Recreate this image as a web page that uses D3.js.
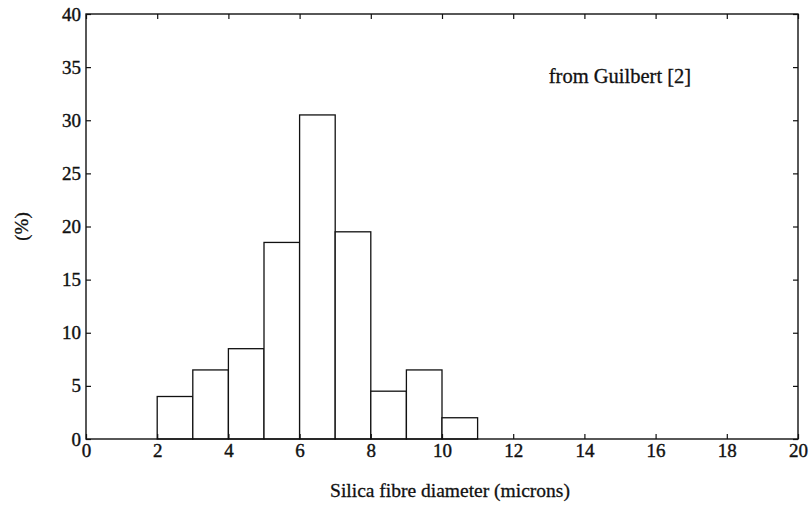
<!DOCTYPE html>
<html>
<head>
<meta charset="utf-8">
<script src="https://cdn.jsdelivr.net/npm/d3@7"></script>
<style>
  body { margin: 0; background: #fff; }
  text { font-family: "Liberation Serif", "Times New Roman", "DejaVu Serif", serif !important; }
</style>
</head>
<body>
<svg id="chart" width="812" height="508"></svg>
<script>
// histogram bins (microns) and percentages
const binStarts = [2, 3, 4, 5, 6, 7, 8, 9, 10];
const binWidth = 1;
const percents = [4, 6.5, 8.5, 18.5, 30.5, 19.5, 4.5, 6.5, 2];
const xTicks = [0, 2, 4, 6, 8, 10, 12, 14, 16, 18, 20];
const yTicks = [0, 5, 10, 15, 20, 25, 30, 35, 40];

const margin = {top: 14, right: 14, bottom: 69, left: 86};
const width = 812 - margin.left - margin.right;
const height = 508 - margin.top - margin.bottom;
const serif = '"Liberation Serif", "Times New Roman", serif';
const ink = '#111';

const svg = d3.select('#chart');
const g = svg.append('g')
    .attr('transform', `translate(${margin.left}, ${margin.top})`);

const x = d3.scaleLinear().domain([0, 20]).range([0, width]);
const y = d3.scaleLinear().domain([0, 40]).range([height, 0]);

// bars
g.selectAll('.bar')
    .data(binStarts)
    .join('rect')
    .attr('class', 'bar')
    .attr('x', d => x(d))
    .attr('y', (d, i) => y(percents[i]))
    .attr('width', d => x(d + binWidth) - x(d))
    .attr('height', (d, i) => height - y(percents[i]))
    .attr('fill', 'white')
    .attr('stroke', ink)
    .attr('stroke-width', 1.3);

// axes, ticks pointing inwards like a matlab box
const tickLen = 5;
g.append('g')
    .attr('transform', `translate(0, ${height})`)
    .call(d3.axisBottom(x).tickValues(xTicks).tickSize(-tickLen).tickPadding(5))
    .call(a => a.select('.domain').remove());
g.append('g')
    .call(d3.axisLeft(y).tickValues(yTicks).tickSize(-tickLen).tickPadding(5))
    .call(a => a.select('.domain').remove());
g.append('g')
    .call(d3.axisTop(x).tickValues(xTicks).tickSize(-tickLen).tickFormat(''))
    .call(a => a.select('.domain').remove());
g.append('g')
    .attr('transform', `translate(${width}, 0)`)
    .call(d3.axisRight(y).tickValues(yTicks).tickSize(-tickLen).tickFormat(''))
    .call(a => a.select('.domain').remove());

g.selectAll('g').attr('font-family', serif);
g.selectAll('.tick line').attr('stroke', ink).attr('stroke-width', 1.2);
g.selectAll('.tick text')
    .attr('fill', ink)
    .attr('stroke', ink)
    .attr('stroke-width', 0.4)
    .attr('font-size', 19);

// frame
g.append('rect')
    .attr('width', width)
    .attr('height', height)
    .attr('fill', 'none')
    .attr('stroke', ink)
    .attr('stroke-width', 1.4);

// labels
const label = (sel, size) => sel
    .attr('font-family', serif)
    .attr('font-size', size)
    .attr('fill', ink)
    .attr('stroke', ink)
    .attr('stroke-width', 0.3);

svg.append('text')
    .attr('x', 450)
    .attr('y', 497)
    .attr('text-anchor', 'middle')
    .call(label, 19.5)
    .text('Silica fibre diameter (microns)');

svg.append('text')
    .attr('transform', `translate(28, ${margin.top + height / 2}) rotate(-90)`)
    .attr('text-anchor', 'middle')
    .call(label, 19)
    .text('(%)');

g.append('text')
    .attr('x', x(13.0))
    .attr('y', y(34.2))
    .attr('dy', '0.35em')
    .call(label, 20.5)
    .text('from Guilbert [2]');
</script>
</body>
</html>
